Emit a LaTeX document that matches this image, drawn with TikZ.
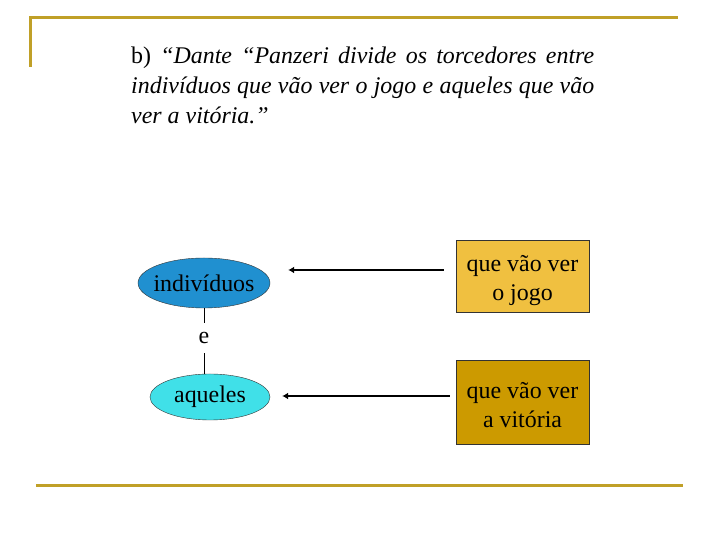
\documentclass[tikz,border=0pt]{standalone}
\usepackage{fontspec}
\setmainfont{Liberation Serif}
\usetikzlibrary{shapes.geometric,arrows.meta}

\definecolor{moldura}{RGB}{192,160,40}
\definecolor{azulesc}{RGB}{32,144,208}
\definecolor{azulcla}{RGB}{64,224,232}
\definecolor{ouro}{RGB}{240,192,64}
\definecolor{ourovelho}{RGB}{204,154,0}

\tikzset{
    elipse/.style={ellipse, draw=black!80, inner xsep=-5bp, inner ysep=0pt},
    caixa/.style={rectangle, draw=black!80, inner sep=0pt, minimum width=133bp, align=center},
    seta/.style={-{Latex[length=6bp,width=7bp]}, line width=2bp},
    ligacao/.style={line width=0.8bp},
}

\begin{document}
\begin{tikzpicture}[x=1bp, y=1bp, font=\fontsize{24}{29}\selectfont]
        \useasboundingbox (0,0) rectangle (720,540);
        % Moldura
        \draw[moldura, line width=3bp] (30.5,473) -- (30.5,522) -- (678,522);
        \draw[moldura, line width=3bp] (36,54) -- (683,54);
        % Enunciado
        \node[anchor=north west, inner sep=0pt, text width=463bp, align=justify,
              font=\fontsize{24}{30}\selectfont] (enunciado) at (131,493)
            {b) \itshape “Dante “Panzeri divide os torcedores entre\linebreak
             indivíduos que vão ver o jogo e aqueles que vão\linebreak
             ver a vitória.”};
        % Elipses
        \node[elipse, fill=azulesc, minimum width=132bp, minimum height=50bp] (individuos) at (204,257) {indivíduos};
        \node[inner sep=0pt, minimum size=30bp] (e) at (204,202) {e};
        \node[elipse, fill=azulcla, minimum width=120bp, minimum height=46bp] (aqueles) at (210,143) {aqueles};
        \draw[ligacao] (individuos.south) -- (e.north);
        \draw[ligacao] (e.south) -- (e.south |- aqueles.north);
        % Caixas
        \node[caixa, fill=ouro, minimum height=72bp] (jogo) at (522.5,264) {\raisebox{-4bp}[\height][\depth]{\begin{tabular}{@{}c@{}}que vão ver\\o jogo\end{tabular}}};
        \node[caixa, fill=ourovelho, minimum height=84bp] (vitoria) at (522.5,138) {\raisebox{-5bp}[\height][\depth]{\begin{tabular}{@{}c@{}}que vão ver\\a vitória\end{tabular}}};
        % Setas
        \draw[seta] ([shift={(-12,6)}]jogo.west) -- ([shift={(18,13)}]individuos.east);
        \draw[seta] ([shift={(-6,6)}]vitoria.west) -- ([shift={(12,1)}]aqueles.east);
    \end{tikzpicture}
\end{document}
